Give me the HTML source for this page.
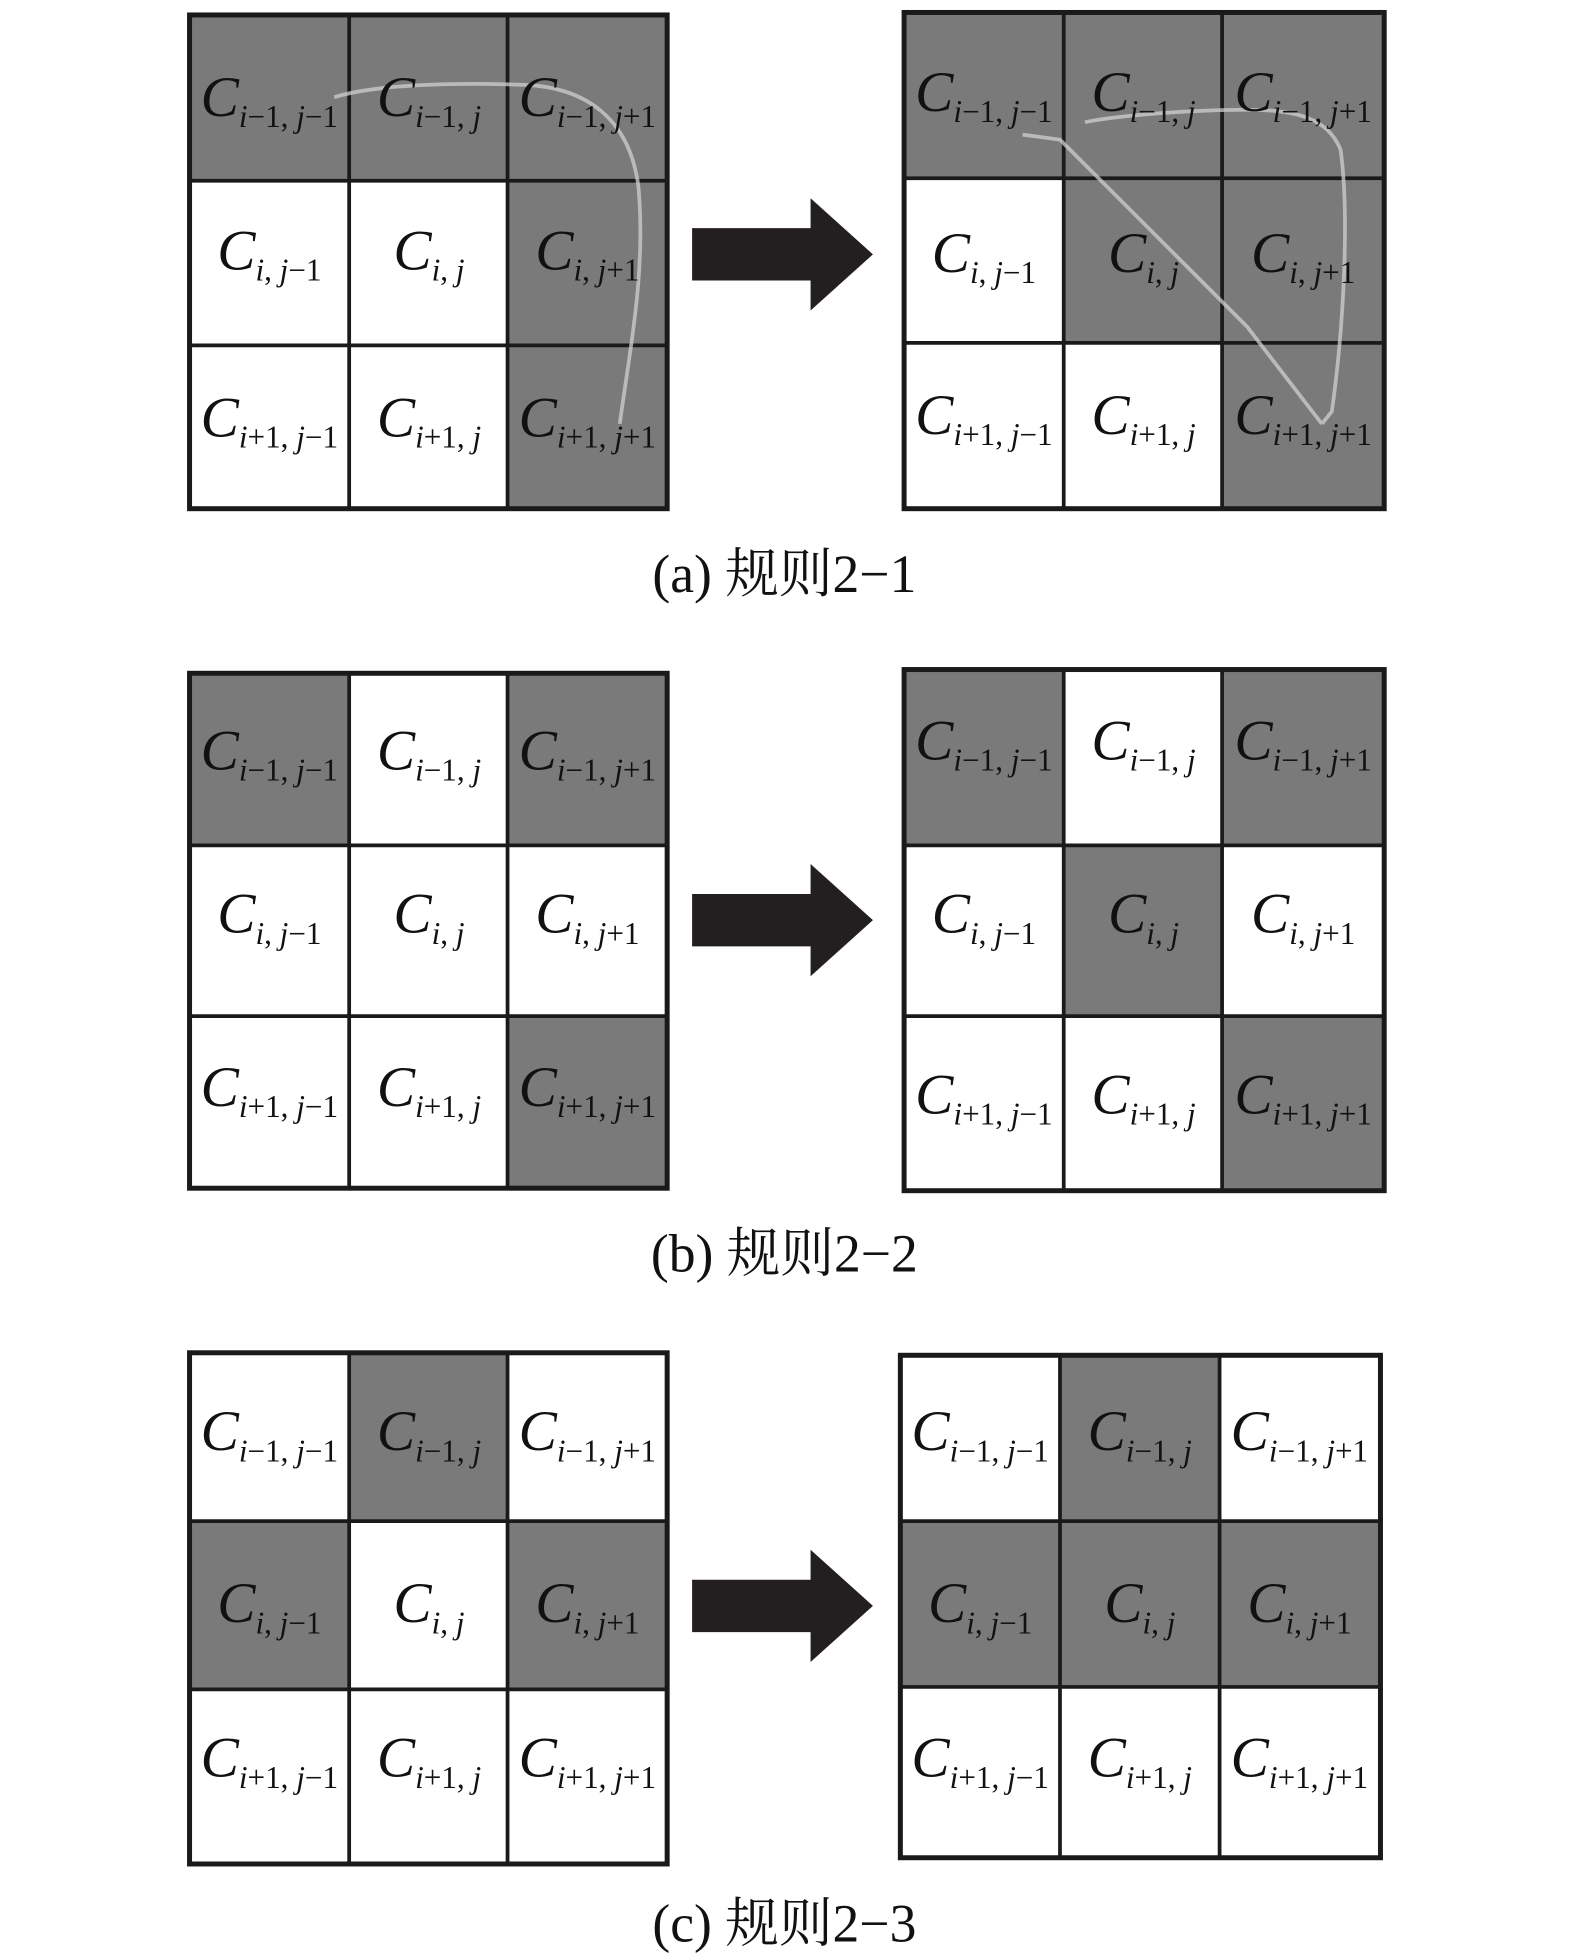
<!DOCTYPE html>
<html><head><meta charset="utf-8"><style>
html,body{margin:0;padding:0;background:#fff;}
svg{display:block;}
.c{font-family:"Liberation Serif",serif;font-style:italic;font-size:46px;fill:#111;}
.s{font-size:25px;}
.n{font-style:normal;}
.cap{font-family:"Liberation Serif","Noto Serif CJK SC",serif;font-size:43px;fill:#111;}
</style></head><body>
<svg width="1575" height="1955" viewBox="0 0 1263 1568" preserveAspectRatio="none" xmlns="http://www.w3.org/2000/svg">
<defs>
<g id="arrow"><polygon points="0,-21 95,-21 95,-45 145,0 95,45 95,21 0,21" fill="#231f20"/></g>
</defs>
<g fill="#7a7a7a">
<rect x="152" y="12" width="383" height="133"/><rect x="407" y="145" width="128" height="263"/>
<rect x="725" y="10" width="385" height="133"/><rect x="853" y="143" width="257" height="132"/><rect x="980" y="275" width="130" height="133"/>
<rect x="152" y="540" width="128" height="138"/><rect x="407" y="540" width="128" height="138"/><rect x="407" y="815" width="128" height="138"/>
<rect x="725" y="537" width="128" height="141"/><rect x="980" y="537" width="130" height="141"/><rect x="853" y="678" width="127" height="137"/><rect x="980" y="815" width="130" height="140"/>
<rect x="280" y="1085" width="127" height="135"/><rect x="152" y="1220" width="128" height="135"/><rect x="407" y="1220" width="128" height="135"/>
<rect x="850" y="1087" width="128" height="133"/><rect x="722" y="1220" width="385" height="133"/>
</g>
<g fill="none" stroke="#1a1a1a" stroke-width="3">
<rect x="152" y="12" width="383" height="396" stroke-width="4"/>
<path d="M280 12V408M407 12V408M152 145H535M152 277H535"/>
<rect x="725" y="10" width="385" height="398" stroke-width="4"/>
<path d="M853 10V408M980 10V408M725 143H1110M725 275H1110"/>
<rect x="152" y="540" width="383" height="413" stroke-width="4"/>
<path d="M280 540V953M407 540V953M152 678H535M152 815H535"/>
<rect x="725" y="537" width="385" height="418" stroke-width="4"/>
<path d="M853 537V955M980 537V955M725 678H1110M725 815H1110"/>
<rect x="152" y="1085" width="383" height="410" stroke-width="4"/>
<path d="M280 1085V1495M407 1085V1495M152 1220H535M152 1355H535"/>
<rect x="722" y="1087" width="385" height="403" stroke-width="4"/>
<path d="M850 1087V1490M978 1087V1490M722 1220H1107M722 1353H1107"/>
</g>
<g fill="none" stroke="#d0d0d0" stroke-width="3" opacity="0.75">
<path d="M268 78 C300 68 360 66 420 68 C470 70 505 95 512 150 C518 220 505 280 497 340"/>
<path d="M1060 340 L1068 330 C1078 260 1082 170 1075 120 C1065 95 1040 88 1000 88 C960 88 900 92 870 98"/>
<path d="M820 108 L850 112 L1000 262 L1060 340"/>
</g>
<use href="#arrow" x="555" y="204"/>
<use href="#arrow" x="555" y="738"/>
<use href="#arrow" x="555" y="1288"/>
<g class="c" text-anchor="middle">
<text x="216" y="93">C<tspan class="s" dy="9">i<tspan class="n">−1, </tspan>j<tspan class="n">−1</tspan></tspan></text>
<text x="344" y="93">C<tspan class="s" dy="9">i<tspan class="n">−1, </tspan>j</tspan></text>
<text x="471" y="93">C<tspan class="s" dy="9">i<tspan class="n">−1, </tspan>j<tspan class="n">+1</tspan></tspan></text>
<text x="216" y="216">C<tspan class="s" dy="9">i<tspan class="n">, </tspan>j<tspan class="n">−1</tspan></tspan></text>
<text x="344" y="216">C<tspan class="s" dy="9">i<tspan class="n">, </tspan>j</tspan></text>
<text x="471" y="216">C<tspan class="s" dy="9">i<tspan class="n">, </tspan>j<tspan class="n">+1</tspan></tspan></text>
<text x="216" y="350">C<tspan class="s" dy="9">i<tspan class="n">+1, </tspan>j<tspan class="n">−1</tspan></tspan></text>
<text x="344" y="350">C<tspan class="s" dy="9">i<tspan class="n">+1, </tspan>j</tspan></text>
<text x="471" y="350">C<tspan class="s" dy="9">i<tspan class="n">+1, </tspan>j<tspan class="n">+1</tspan></tspan></text>
<text x="789" y="89">C<tspan class="s" dy="9">i<tspan class="n">−1, </tspan>j<tspan class="n">−1</tspan></tspan></text>
<text x="917" y="89">C<tspan class="s" dy="9">i<tspan class="n">−1, </tspan>j</tspan></text>
<text x="1045" y="89">C<tspan class="s" dy="9">i<tspan class="n">−1, </tspan>j<tspan class="n">+1</tspan></tspan></text>
<text x="789" y="218">C<tspan class="s" dy="9">i<tspan class="n">, </tspan>j<tspan class="n">−1</tspan></tspan></text>
<text x="917" y="218">C<tspan class="s" dy="9">i<tspan class="n">, </tspan>j</tspan></text>
<text x="1045" y="218">C<tspan class="s" dy="9">i<tspan class="n">, </tspan>j<tspan class="n">+1</tspan></tspan></text>
<text x="789" y="348">C<tspan class="s" dy="9">i<tspan class="n">+1, </tspan>j<tspan class="n">−1</tspan></tspan></text>
<text x="917" y="348">C<tspan class="s" dy="9">i<tspan class="n">+1, </tspan>j</tspan></text>
<text x="1045" y="348">C<tspan class="s" dy="9">i<tspan class="n">+1, </tspan>j<tspan class="n">+1</tspan></tspan></text>
<text x="216" y="617">C<tspan class="s" dy="9">i<tspan class="n">−1, </tspan>j<tspan class="n">−1</tspan></tspan></text>
<text x="344" y="617">C<tspan class="s" dy="9">i<tspan class="n">−1, </tspan>j</tspan></text>
<text x="471" y="617">C<tspan class="s" dy="9">i<tspan class="n">−1, </tspan>j<tspan class="n">+1</tspan></tspan></text>
<text x="216" y="748">C<tspan class="s" dy="9">i<tspan class="n">, </tspan>j<tspan class="n">−1</tspan></tspan></text>
<text x="344" y="748">C<tspan class="s" dy="9">i<tspan class="n">, </tspan>j</tspan></text>
<text x="471" y="748">C<tspan class="s" dy="9">i<tspan class="n">, </tspan>j<tspan class="n">+1</tspan></tspan></text>
<text x="216" y="887">C<tspan class="s" dy="9">i<tspan class="n">+1, </tspan>j<tspan class="n">−1</tspan></tspan></text>
<text x="344" y="887">C<tspan class="s" dy="9">i<tspan class="n">+1, </tspan>j</tspan></text>
<text x="471" y="887">C<tspan class="s" dy="9">i<tspan class="n">+1, </tspan>j<tspan class="n">+1</tspan></tspan></text>
<text x="789" y="609">C<tspan class="s" dy="9">i<tspan class="n">−1, </tspan>j<tspan class="n">−1</tspan></tspan></text>
<text x="917" y="609">C<tspan class="s" dy="9">i<tspan class="n">−1, </tspan>j</tspan></text>
<text x="1045" y="609">C<tspan class="s" dy="9">i<tspan class="n">−1, </tspan>j<tspan class="n">+1</tspan></tspan></text>
<text x="789" y="748">C<tspan class="s" dy="9">i<tspan class="n">, </tspan>j<tspan class="n">−1</tspan></tspan></text>
<text x="917" y="748">C<tspan class="s" dy="9">i<tspan class="n">, </tspan>j</tspan></text>
<text x="1045" y="748">C<tspan class="s" dy="9">i<tspan class="n">, </tspan>j<tspan class="n">+1</tspan></tspan></text>
<text x="789" y="893">C<tspan class="s" dy="9">i<tspan class="n">+1, </tspan>j<tspan class="n">−1</tspan></tspan></text>
<text x="917" y="893">C<tspan class="s" dy="9">i<tspan class="n">+1, </tspan>j</tspan></text>
<text x="1045" y="893">C<tspan class="s" dy="9">i<tspan class="n">+1, </tspan>j<tspan class="n">+1</tspan></tspan></text>
<text x="216" y="1163">C<tspan class="s" dy="9">i<tspan class="n">−1, </tspan>j<tspan class="n">−1</tspan></tspan></text>
<text x="344" y="1163">C<tspan class="s" dy="9">i<tspan class="n">−1, </tspan>j</tspan></text>
<text x="471" y="1163">C<tspan class="s" dy="9">i<tspan class="n">−1, </tspan>j<tspan class="n">+1</tspan></tspan></text>
<text x="216" y="1301">C<tspan class="s" dy="9">i<tspan class="n">, </tspan>j<tspan class="n">−1</tspan></tspan></text>
<text x="344" y="1301">C<tspan class="s" dy="9">i<tspan class="n">, </tspan>j</tspan></text>
<text x="471" y="1301">C<tspan class="s" dy="9">i<tspan class="n">, </tspan>j<tspan class="n">+1</tspan></tspan></text>
<text x="216" y="1425">C<tspan class="s" dy="9">i<tspan class="n">+1, </tspan>j<tspan class="n">−1</tspan></tspan></text>
<text x="344" y="1425">C<tspan class="s" dy="9">i<tspan class="n">+1, </tspan>j</tspan></text>
<text x="471" y="1425">C<tspan class="s" dy="9">i<tspan class="n">+1, </tspan>j<tspan class="n">+1</tspan></tspan></text>
<text x="786" y="1163">C<tspan class="s" dy="9">i<tspan class="n">−1, </tspan>j<tspan class="n">−1</tspan></tspan></text>
<text x="914" y="1163">C<tspan class="s" dy="9">i<tspan class="n">−1, </tspan>j</tspan></text>
<text x="1042" y="1163">C<tspan class="s" dy="9">i<tspan class="n">−1, </tspan>j<tspan class="n">+1</tspan></tspan></text>
<text x="786" y="1301">C<tspan class="s" dy="9">i<tspan class="n">, </tspan>j<tspan class="n">−1</tspan></tspan></text>
<text x="914" y="1301">C<tspan class="s" dy="9">i<tspan class="n">, </tspan>j</tspan></text>
<text x="1042" y="1301">C<tspan class="s" dy="9">i<tspan class="n">, </tspan>j<tspan class="n">+1</tspan></tspan></text>
<text x="786" y="1425">C<tspan class="s" dy="9">i<tspan class="n">+1, </tspan>j<tspan class="n">−1</tspan></tspan></text>
<text x="914" y="1425">C<tspan class="s" dy="9">i<tspan class="n">+1, </tspan>j</tspan></text>
<text x="1042" y="1425">C<tspan class="s" dy="9">i<tspan class="n">+1, </tspan>j<tspan class="n">+1</tspan></tspan></text>
</g>
<g class="cap" text-anchor="middle">
<text x="629" y="475">(a) 规则2−1</text>
<text x="629" y="1020">(b) 规则2−2</text>
<text x="629" y="1557">(c) 规则2−3</text>
</g>
</svg>
</body></html>
